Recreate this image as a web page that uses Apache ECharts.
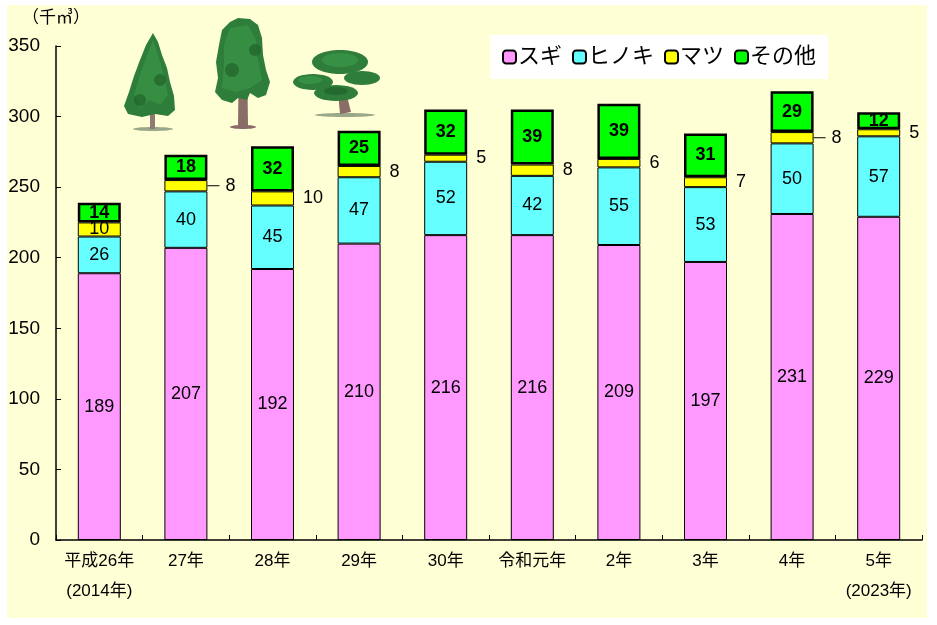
<!DOCTYPE html>
<html>
<head>
<meta charset="utf-8">
<script src="https://cdn.jsdelivr.net/npm/echarts@6/dist/echarts.min.js"></script>
<style>
html,body{margin:0;padding:0;background:#fff;}
#c{width:937px;height:625px;}
</style>
</head>
<body>
<div id="c"></div>
<script>
const categories = ['平成26年\n(2014年)', '27年', '28年', '29年', '30年', '令和元年', '2年', '3年', '4年', '5年\n(2023年)'];
const sugi = [189, 207, 192, 210, 216, 216, 209, 197, 231, 229];
const hinoki = [26, 40, 45, 47, 52, 42, 55, 53, 50, 57];
const matsu = [10, 8, 10, 8, 5, 8, 6, 7, 8, 5];
const sonota = [14, 18, 32, 25, 32, 39, 39, 31, 29, 12];
const seriesNames = ['スギ', 'ヒノキ', 'マツ', 'その他'];
const yTicks = [0, 50, 100, 150, 200, 250, 300, 350];

const FONT = '"Liberation Sans", "Noto Sans CJK JP", sans-serif';
const leaderIdx = [1, 8];

const matsuData = matsu.map((v, i) => {
  if (i === 0) {
    return { value: v, label: { position: 'inside', formatter: '{c}' } };
  }
  const hasLine = leaderIdx.indexOf(i) >= 0;
  return {
    value: v,
    label: {
      position: 'right',
      distance: hasLine ? 0 : 3,
      formatter: hasLine ? '{ln|}{v|' + v + '}' : '{v|' + v + '}'
    }
  };
});

const chart = echarts.init(document.getElementById('c'), null, { renderer: 'canvas' });

function tree1() {
  return [
    { type: 'ellipse', shape: { cx: 153, cy: 129, rx: 20, ry: 2 }, style: { fill: '#9aa88a' } },
    { type: 'rect', shape: { x: 150, y: 100, width: 5, height: 29 }, style: { fill: '#8d7a72' } },
    { type: 'polygon', shape: { points: [[153,33],[158,42],[162,55],[167,68],[170,82],[174,96],[175,110],[168,116],[155,114],[142,117],[128,114],[124,106],[129,92],[134,76],[140,60],[146,45]] }, style: { fill: '#2e7d3a' } },
    { type: 'polygon', shape: { points: [[153,40],[158,55],[164,75],[168,95],[160,105],[150,100],[140,108],[134,95],[140,75],[147,55]] }, style: { fill: '#3c9a48', opacity: 0.6 } },
    { type: 'circle', shape: { cx: 160, cy: 80, r: 6 }, style: { fill: '#1e5c28', opacity: 0.6 } },
    { type: 'circle', shape: { cx: 140, cy: 100, r: 6 }, style: { fill: '#1e5c28', opacity: 0.6 } }
  ];
}
function tree2() {
  return [
    { type: 'ellipse', shape: { cx: 243, cy: 127, rx: 13, ry: 2 }, style: { fill: '#8a6a6a' } },
    { type: 'polygon', shape: { points: [[239,50],[247,50],[248,126],[238,126]] }, style: { fill: '#8b6d68' } },
    { type: 'polygon', shape: { points: [[238,18],[250,19],[258,25],[262,38],[263,55],[266,70],[270,82],[266,95],[258,98],[250,93],[247,100],[238,98],[232,103],[222,100],[215,92],[218,78],[216,62],[219,45],[222,30],[230,22]] }, style: { fill: '#2e7d3a' } },
    { type: 'polygon', shape: { points: [[230,28],[248,25],[256,40],[258,60],[262,80],[250,88],[236,92],[222,88],[224,65],[224,45]] }, style: { fill: '#3c9a48', opacity: 0.6 } },
    { type: 'circle', shape: { cx: 232, cy: 70, r: 7 }, style: { fill: '#1e5c28', opacity: 0.6 } },
    { type: 'circle', shape: { cx: 255, cy: 50, r: 6 }, style: { fill: '#1e5c28', opacity: 0.6 } }
  ];
}
function tree3() {
  return [
    { type: 'ellipse', shape: { cx: 345, cy: 115, rx: 30, ry: 2 }, style: { fill: '#9aa88a' } },
    { type: 'polygon', shape: { points: [[338,92],[346,92],[351,112],[340,114]] }, style: { fill: '#8b6d68' } },
    { type: 'ellipse', shape: { cx: 336, cy: 93, rx: 22, ry: 8 }, style: { fill: '#2e7d3a' } },
    { type: 'ellipse', shape: { cx: 313, cy: 82, rx: 20, ry: 8 }, style: { fill: '#2e7d3a' } },
    { type: 'ellipse', shape: { cx: 362, cy: 78, rx: 18, ry: 7 }, style: { fill: '#2e7d3a' } },
    { type: 'ellipse', shape: { cx: 340, cy: 62, rx: 28, ry: 12 }, style: { fill: '#2e7d3a' } },
    { type: 'ellipse', shape: { cx: 340, cy: 60, rx: 18, ry: 7 }, style: { fill: '#3c9a48', opacity: 0.7 } },
    { type: 'ellipse', shape: { cx: 310, cy: 80, rx: 12, ry: 4 }, style: { fill: '#3c9a48', opacity: 0.7 } },
    { type: 'ellipse', shape: { cx: 336, cy: 91, rx: 12, ry: 4 }, style: { fill: '#1e5c28', opacity: 0.6 } }
  ];
}

const option = {
  backgroundColor: '#ffffff',
  animation: false,
  textStyle: { fontFamily: FONT },
  graphic: [
    { type: 'rect', z: -10, shape: { x: 7, y: 5, width: 920, height: 613 }, style: { fill: '#FFFFD5' } },
    { type: 'text', left: 22, top: 10, style: { text: '（千㎥）', fontSize: 17, fill: '#000', fontFamily: FONT } },
    { type: 'group', children: tree1().concat(tree2(), tree3()) }
  ],
  legend: {
    left: 490, top: 35,
    backgroundColor: '#ffffff',
    padding: [11, 12, 11, 12],
    itemWidth: 13, itemHeight: 13, itemGap: 10,
    textStyle: { fontSize: 22, color: '#000', fontFamily: FONT, padding: [0, 0, 0, -3] },
    data: seriesNames
  },
  grid: { left: 56, right: 15, top: 46, bottom: 85 },
  xAxis: {
    type: 'category',
    data: categories,
    axisLine: { lineStyle: { color: '#000', width: 1.5 } },
    axisTick: { show: true, inside: true, length: 5, interval: 0, lineStyle: { color: '#000' } },
    axisLabel: { interval: 0, fontSize: 17, color: '#000', lineHeight: 30, margin: 6, fontFamily: FONT }
  },
  yAxis: {
    type: 'value', min: 0, max: 350, interval: 50,
    axisLine: { show: true, lineStyle: { color: '#000', width: 1.5 } },
    axisTick: { show: true, inside: true, length: 5, lineStyle: { color: '#000' } },
    splitLine: { show: false },
    axisLabel: { fontSize: 19, color: '#000', margin: 16, fontFamily: FONT,
      formatter: v => (yTicks.indexOf(v) >= 0 ? String(v) : '') }
  },
  series: [
    {
      name: seriesNames[0], type: 'bar', stack: 't', barWidth: 43, data: sugi,
      itemStyle: { color: '#FF99FF', borderColor: '#000', borderWidth: 1 },
      label: { show: true, position: 'inside', fontSize: 18, color: '#000', fontFamily: FONT }
    },
    {
      name: seriesNames[1], type: 'bar', stack: 't', barWidth: 43, data: hinoki,
      itemStyle: { color: '#66FFFF', borderColor: '#000', borderWidth: 1 },
      label: { show: true, position: 'inside', fontSize: 18, color: '#000', fontFamily: FONT }
    },
    {
      name: seriesNames[2], type: 'bar', stack: 't', barWidth: 43, data: matsuData,
      itemStyle: { color: '#FFFF00', borderColor: '#000', borderWidth: 1 },
      label: {
        show: true, fontSize: 18, color: '#000', fontFamily: FONT,
        rich: {
          ln: { width: 12, height: 1, backgroundColor: '#000' },
          v: { fontSize: 18, color: '#000', padding: [0, 0, 0, 6], fontFamily: FONT }
        }
      }
    },
    {
      name: seriesNames[3], type: 'bar', stack: 't', barWidth: 43, data: sonota,
      itemStyle: { color: '#00FF00', borderColor: '#000', borderWidth: 2.5 },
      label: { show: true, position: 'inside', fontSize: 18, fontWeight: 'bold', color: '#000', fontFamily: FONT }
    }
  ]
};
chart.setOption(option);
</script>
</body>
</html>
